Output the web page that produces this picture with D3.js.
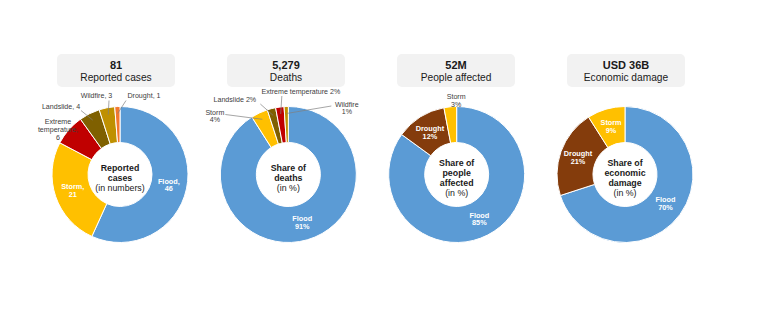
<!DOCTYPE html>
<html>
<head>
<meta charset="utf-8">
<script src="https://cdn.jsdelivr.net/npm/d3@7"></script>
<style>
  html, body { margin: 0; padding: 0; background: #fff; }
  svg { display: block; }
  text { font-family: "Liberation Sans", Arial, sans-serif; }
</style>
</head>
<body>
<svg id="chart" width="768" height="322"></svg>
<script>
// ---- Data ----
const headlines = ["81", "5,279", "52M", "USD 36B"];
const titles = ["Reported cases", "Deaths", "People affected", "Economic damage"];
const centerLabels = [
  ["Reported", "cases", "(in numbers)"],
  ["Share of", "deaths", "(in %)"],
  ["Share of", "people", "affected", "(in %)"],
  ["Share of", "economic", "damage", "(in %)"]
];

const casesCategories = ["Flood", "Storm", "Extreme temperature", "Landslide", "Wildfire", "Drought"];
const casesValues = [46, 21, 6, 4, 3, 1];

const deathsCategories = ["Flood", "Storm", "Landslide", "Extreme temperature", "Wildfire"];
const deathsValues = [91, 4, 2, 2, 1];

const affectedCategories = ["Flood", "Drought", "Storm"];
const affectedValues = [85, 12, 3];

const damageCategories = ["Flood", "Drought", "Storm"];
const damageValues = [70, 21, 9];

// ---- Styles ----
const colorsCases = {
  "Flood": "#5b9bd5", "Storm": "#ffc000", "Extreme temperature": "#c00000",
  "Landslide": "#7f6000", "Wildfire": "#bf9000", "Drought": "#f4772d"
};
const colorsShare = {
  "Flood": "#5b9bd5", "Storm": "#ffc000", "Extreme temperature": "#c00000",
  "Landslide": "#7f6000", "Wildfire": "#bf9000", "Drought": "#843c0c"
};

// number format for each panel: [name part, value part]
const fmtCount = (c, v) => [c + ",", String(v)];
const fmtShare = (c, v) => [c, v + "%"];

// placement of labels drawn outside the ring (offsets from the donut centre)
// mode: "inline" one line, "stack" name over value, "words" one word per line
const outsideLayout = [
  {
    "Extreme temperature": { x: -62, y: -52.5, mode: "words" },
    "Landslide": { x: -59, y: -67.5, mode: "inline", leader: [-39, -64] },
    "Wildfire": { x: -23.5, y: -78.5, mode: "inline", leader: [-11, -74] },
    "Drought": { x: 24, y: -78.5, mode: "inline", leader: [6, -74] }
  },
  {
    "Storm": { x: -73.5, y: -62, mode: "stack", leader: [-63, -60] },
    "Landslide": { x: -53.5, y: -74.5, mode: "inline", leader: [-28, -70.5] },
    "Extreme temperature": { x: 12.5, y: -82.5, mode: "inline", leader: [-6.5, -78.5] },
    "Wildfire": { x: 58.5, y: -70, mode: "stack", leader: [43, -68.5] }
  },
  {
    "Storm": { x: -0.5, y: -77.5, mode: "stack" }
  },
  {}
];

const panels = [
  { cats: casesCategories, vals: casesValues, colors: colorsCases, fmt: fmtCount },
  { cats: deathsCategories, vals: deathsValues, colors: colorsShare, fmt: fmtShare },
  { cats: affectedCategories, vals: affectedValues, colors: colorsShare, fmt: fmtShare },
  { cats: damageCategories, vals: damageValues, colors: colorsShare, fmt: fmtShare }
];

// ---- Layout ----
const donutX = d3.scaleLinear().domain([0, 3]).range([120, 625]);
const boxX = d3.scaleLinear().domain([0, 3]).range([116, 626]);
const cy = 174.5;
const rOuter = 68, rInner = 32;
const boxW = 118, boxH = 33, boxTop = 54;

const svg = d3.select("#chart");
const pie = d3.pie().sort(null).value(d => d.value);
const arc = d3.arc().innerRadius(rInner).outerRadius(rOuter);

panels.forEach((p, i) => {
  const data = p.cats.map((c, k) => ({ cat: c, value: p.vals[k] }));
  const arcs = pie(data);

  // title box
  const bx = boxX(i);
  const head = svg.append("g");
  head.append("rect")
    .attr("x", bx - boxW / 2).attr("y", boxTop)
    .attr("width", boxW).attr("height", boxH)
    .attr("rx", 5).attr("fill", "#f2f2f2");
  head.append("text")
    .attr("x", bx).attr("y", 65)
    .attr("text-anchor", "middle").attr("dominant-baseline", "central")
    .attr("font-size", 11).attr("font-weight", "bold").attr("fill", "#1a1a1a")
    .text(headlines[i]);
  head.append("text")
    .attr("x", bx).attr("y", 77.5)
    .attr("text-anchor", "middle").attr("dominant-baseline", "central")
    .attr("font-size", 10.2).attr("fill", "#1a1a1a")
    .text(titles[i]);

  // donut
  const g = svg.append("g").attr("transform", `translate(${donutX(i)},${cy})`);
  g.selectAll("path.slice")
    .data(arcs)
    .join("path")
    .attr("class", "slice")
    .attr("d", arc)
    .attr("fill", d => p.colors[d.data.cat])
    .attr("stroke", "#fff")
    .attr("stroke-width", 1);

  // centre label
  const cl = centerLabels[i];
  const lineGap = 10;
  const y0 = 3 - (cl.length - 1) * lineGap / 2;
  cl.forEach((t, k) => {
    const last = k === cl.length - 1;
    g.append("text")
      .attr("x", 0).attr("y", y0 + k * lineGap)
      .attr("text-anchor", "middle").attr("dominant-baseline", "central")
      .attr("font-size", 8.8)
      .attr("font-weight", last ? "normal" : "bold")
      .attr("fill", "#1a1a1a")
      .text(t);
  });

  // slice labels
  const layout = outsideLayout[i];
  arcs.forEach(d => {
    const [namePart, valPart] = p.fmt(d.data.cat, d.data.value);
    const spec = layout[d.data.cat];
    if (!spec) {
      // white label inside the ring
      const [x, y] = arc.centroid(d);
      [namePart, valPart].forEach((t, k) => {
        g.append("text")
          .attr("x", x).attr("y", y - 3.9 + k * 7.8)
          .attr("text-anchor", "middle").attr("dominant-baseline", "central")
          .attr("font-size", 7.3).attr("font-weight", "bold")
          .attr("fill", "#fff")
          .text(t);
      });
      return;
    }
    let lines;
    if (spec.mode === "inline") lines = [namePart + " " + valPart];
    else if (spec.mode === "stack") lines = [namePart, valPart];
    else lines = namePart.split(" ").concat([valPart]);

    if (spec.leader) {
      const mid = (d.startAngle + d.endAngle) / 2;
      const rEnd = 61;
      g.append("line")
        .attr("x1", spec.leader[0]).attr("y1", spec.leader[1])
        .attr("x2", Math.sin(mid) * rEnd).attr("y2", -Math.cos(mid) * rEnd)
        .attr("stroke", "#7f7f7f").attr("stroke-width", 0.7);
    }
    lines.forEach((t, k) => {
      g.append("text")
        .attr("x", spec.x).attr("y", spec.y + k * 7.8)
        .attr("text-anchor", "middle").attr("dominant-baseline", "central")
        .attr("font-size", 7.1)
        .attr("fill", "#404040")
        .text(t);
    });
  });
});
</script>
</body>
</html>
